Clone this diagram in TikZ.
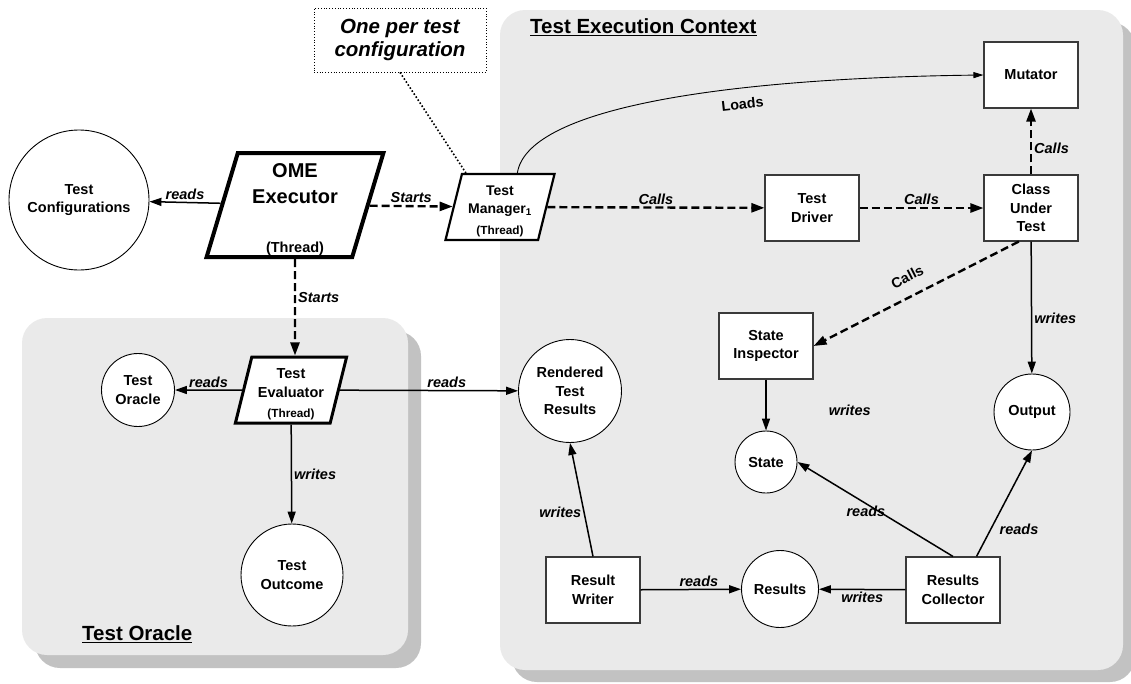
\documentclass[tikz,border=0pt]{standalone}
\usepackage{fontspec}
\setmainfont{Liberation Sans}
\usetikzlibrary{arrows.meta,positioning,shapes.geometric,calc}
\definecolor{omePanel}{HTML}{EAEAEA}
\definecolor{omeShadow}{HTML}{C2C2C2}
\definecolor{omeLine}{HTML}{3A3A3A}
\newcommand{\threadfont}{\bfseries\fontsize{11.8}{14}\selectfont}

\begin{document}
\begin{tikzpicture}[
  x=1pt,y=-1pt,
  txt/.style={font=\bfseries\fontsize{14.5}{18.5}\selectfont,align=center},
  box/.style={txt,draw=omeLine,line width=1.1pt,fill=white,minimum width=94pt,minimum height=66pt,inner sep=1pt},
  store/.style={txt,circle,draw=black,line width=0.9pt,fill=white,inner sep=0pt},
  thread/.style={txt,trapezium,trapezium left angle=77,trapezium right angle=103,trapezium stretches=true,draw=black,fill=white,inner sep=0pt},
  lbl/.style={font=\bfseries\itshape\fontsize{14.5}{17}\selectfont,inner sep=2pt},
  plain/.style={font=\bfseries\fontsize{14.3}{17}\selectfont,inner sep=2pt},
  title/.style={font=\bfseries\fontsize{20.5}{24}\selectfont,anchor=west,inner sep=0pt},
  flow/.style={-{Triangle[length=12pt,width=8pt]},line width=1.5pt},
  calls/.style={-{Triangle[length=13pt,width=9pt]},line width=2.4pt,dash pattern=on 8pt off 4pt},
  loads/.style={-{Triangle[length=10pt,width=6pt]},line width=0.9pt},
  panel/.style={fill=omePanel,rounded corners=25pt},
  shade/.style={fill=omeShadow,rounded corners=25pt}
]
  \useasboundingbox (0,0) rectangle (1131,683);
  % containers
  \fill[shade] (512,22) rectangle (1135,682);
  \fill[panel] (500,10) rectangle (1123,670);
  \fill[shade] (35,331) rectangle (421,668);
  \fill[panel] (22,318) rectangle (408,655);
  \node[title] (ctxTitle) at (530,27) {\underline{Test Execution Context}};
  \node[title] (oraTitle) at (82,634) {\underline{Test Oracle}};

  % threads
  \node[thread,line width=4pt,minimum width=177pt,minimum height=104pt,font=\bfseries\fontsize{20}{26}\selectfont] (ome) at (295,205)
    {\rule{0pt}{23pt}OME\\Executor\\[23pt]{\fontsize{14.5}{17}\selectfont (Thread)}};
  \node[thread,line width=2.2pt,minimum width=110pt,minimum height=66pt,font=\bfseries\fontsize{14}{18}\selectfont] (tm) at (500,207)
    {\rule{0pt}{18pt}Test\\Manager\textsubscript{1}\\[3pt]{\threadfont (Thread)}};
  \node[thread,line width=3pt,minimum width=112pt,minimum height=66pt] (te) at (291,390)
    {\rule{0pt}{18.5pt}Test\\Evaluator\\[2pt]{\threadfont (Thread)}};

  % stores
  \node[store,minimum size=140pt] (conf) at (79,200) {Test\\Configurations};
  \node[store,minimum size=73pt] (oracle) at (138,390) {Test\\Oracle};
  \node[store,minimum size=102pt] (outcome) at (292,575) {Test\\Outcome};
  \node[store,minimum size=103pt] (rendered) at (570,391) {Rendered\\Test\\Results};
  \node[store,minimum size=62pt] (state) at (766,462) {State};
  \node[store,minimum size=76pt] (output) at (1032,412) {Output};
  \node[store,minimum size=77pt] (results) at (780,589) {Results};

  % components
  \node[box] (td) at (812,208) {Test\\Driver};
  \node[box] (cut) at (1031,208) {Class\\Under\\Test};
  \node[box] (mut) at (1031,75) {Mutator};
  \node[box] (si) at (766,346) {State\\Inspector};
  \node[box] (rw) at (593,590) {Result\\Writer};
  \node[box] (rc) at (953,590) {Results\\Collector};

  \node[draw,dotted,line width=0.8pt,minimum width=172pt,minimum height=64pt,align=center,
    font=\bfseries\itshape\fontsize{20.5}{23}\selectfont] (note) at (400,40) {One per test\\configuration};
  \draw[dotted,line width=1.6pt] (note.south) -- (tm.135);

  % connectors
  \draw[flow] (ome) -- node[lbl,midway,above] {reads} (conf);
  \draw[calls] (ome) -- node[lbl,midway,above] {Starts} (tm);
  \draw[calls] (ome) -- node[lbl,pos=0.4,right] {Starts} (ome |- te.north);
  \draw[calls] (tm) -- node[lbl,midway,above] {Calls} (td);
  \draw[calls] (td) -- node[lbl,midway,above] {Calls} (cut);
  \draw[calls] (cut) -- node[lbl,pos=0.4,right] {Calls} (mut);
  \draw[calls] (cut.250) -- (si.east);
  \node[plain,rotate=27] (siCalls) at ($(si.east)!0.5!(cut.250)+(-9,-17)$) {Calls};
  \draw[flow] (cut) -- node[lbl,pos=0.58,right] {writes} (output);
  \draw[loads] (tm.63) .. controls (528,105) and (740,78) .. node[plain,pos=0.64,below=8pt,sloped] {Loads} (mut.west);
  \draw[flow] (te) -- node[lbl,midway,above] {reads} (oracle);
  \draw[flow] (te) -- node[lbl,pos=0.6,above] {reads} (rendered);
  \draw[flow] (te) -- node[lbl,midway,right] {writes} (outcome);
  \draw[flow] (si) -- node[lbl,pos=0.6,right=60pt] {writes} (state);
  \draw[flow] (rc.north) -- node[lbl,pos=0.56,below] {reads} (state.east);
  \draw[flow] (rc.55) -- node[lbl,pos=0.26,right=6pt] {reads} (output.south);
  \draw[flow] (rc) -- node[lbl,midway,below] {writes} (results);
  \draw[flow] (rw) -- node[lbl,pos=0.58,above] {reads} (results);
  \draw[flow] (rw.north) -- node[lbl,pos=0.39,left] {writes} (rendered.south);
\end{tikzpicture}
\end{document}
